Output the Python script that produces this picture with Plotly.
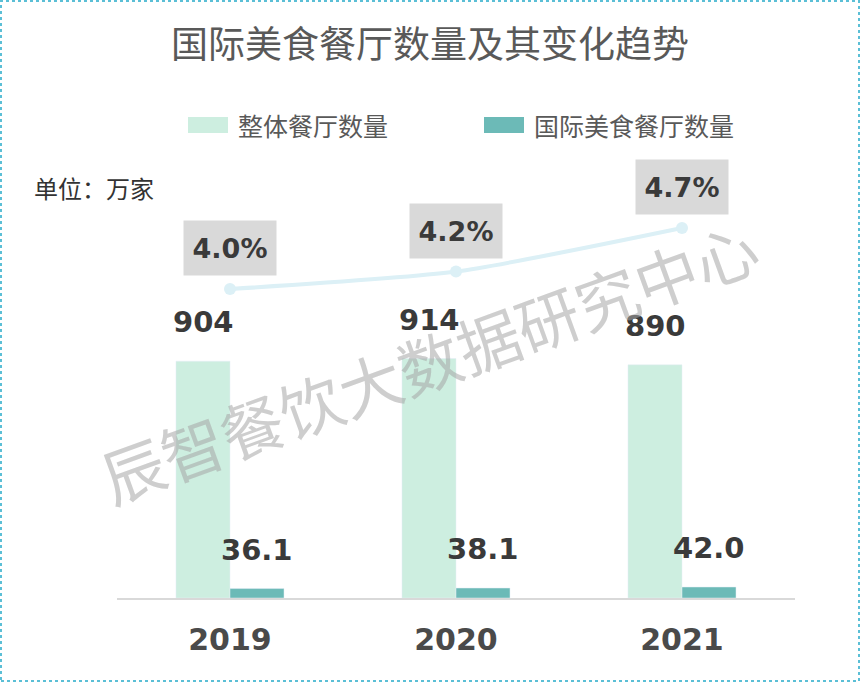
import plotly.graph_objects as go

years = ["2019", "2020", "2021"]
total_restaurants = [904, 914, 890]
intl_restaurants = [36.1, 38.1, 42.0]
intl_share = [4.0, 4.2, 4.7]
total_labels = ["904", "914", "890"]
intl_labels = ["36.1", "38.1", "42.0"]
share_labels = ["4.0%", "4.2%", "4.7%"]

W, H = 861, 683
L, R, T, B = 117, 66, 150, 85
PW, PH = W - L - R, H - T - B

def px(x):
    return (x - L) / PW

def py(y):
    return (H - B - y) / PH

LIGHT = "#cdeee0"
DARK = "#6cbab7"
NUMFONT = "'DejaVu Sans', sans-serif"
CJK = "'Noto Sans CJK SC', sans-serif"

fig = go.Figure()
fig.add_trace(go.Bar(x=years, y=total_restaurants, name="整体餐厅数量",
                     marker_color=LIGHT, yaxis="y"))
fig.add_trace(go.Bar(x=years, y=intl_restaurants, name="国际美食餐厅数量",
                     marker_color=DARK, yaxis="y"))
fig.add_trace(go.Scatter(x=years, y=intl_share, mode="lines+markers", yaxis="y2",
                         line=dict(color="#dcf0f6", width=4, shape="spline", smoothing=0.6),
                         marker=dict(color="#dcf0f6", size=12), showlegend=False))

ann = []
for i, yr in enumerate(years):
    ann.append(dict(x=i, y=total_restaurants[i], xref="x", yref="y", text=total_labels[i],
                    showarrow=False, xshift=-27, yshift=39, yanchor="middle", xanchor="center",
                    font=dict(family=NUMFONT, size=29, color="#3a3a3a", weight="bold")))
    ann.append(dict(x=i, y=intl_restaurants[i], xref="x", yref="y", text=intl_labels[i],
                    showarrow=False, xshift=27, yshift=39, yanchor="middle", xanchor="center",
                    font=dict(family=NUMFONT, size=29, color="#3a3a3a", weight="bold")))
    ann.append(dict(x=i, y=intl_share[i], xref="x", yref="y2", text=share_labels[i],
                    showarrow=False, yshift=41, bgcolor="#d9d9d9", width=90, height=52,
                    yanchor="middle", xanchor="center",
                    font=dict(family=NUMFONT, size=27, color="#3a3a3a", weight="bold")))

# title
ann.append(dict(x=px(430), y=py(42), xref="paper", yref="paper", text="国际美食餐厅数量及其变化趋势",
                showarrow=False, xanchor="center", yanchor="middle",
                font=dict(family=CJK, size=37, color="#595959")))
# unit
ann.append(dict(x=px(32), y=py(187), xref="paper", yref="paper", text="单位：万家",
                showarrow=False, xanchor="left", yanchor="middle",
                font=dict(family=CJK, size=24, color="#333333")))
# legend texts
ann.append(dict(x=px(236), y=py(125), xref="paper", yref="paper", text="整体餐厅数量",
                showarrow=False, xanchor="left", yanchor="middle",
                font=dict(family=CJK, size=25, color="#595959")))
ann.append(dict(x=px(532), y=py(125), xref="paper", yref="paper", text="国际美食餐厅数量",
                showarrow=False, xanchor="left", yanchor="middle",
                font=dict(family=CJK, size=25, color="#595959")))
# watermark
ann.append(dict(x=px(428), y=py(360), xref="paper", yref="paper", text="辰智餐饮大数据研究中心",
                showarrow=False, textangle=-20, xanchor="center", yanchor="middle",
                font=dict(family=CJK, size=63, color="rgba(165,165,165,0.55)")))

shapes = [
    dict(type="rect", xref="paper", yref="paper", x0=px(188), x1=px(228), y0=py(133), y1=py(117),
         fillcolor=LIGHT, line=dict(width=0)),
    dict(type="rect", xref="paper", yref="paper", x0=px(484), x1=px(524), y0=py(133), y1=py(117),
         fillcolor=DARK, line=dict(width=0)),
    dict(type="rect", xref="paper", yref="paper", x0=px(1), x1=px(859), y0=py(681), y1=py(1),
         line=dict(color="#5bbfd6", width=2, dash="dot"), fillcolor="rgba(0,0,0,0)", layer="above"),
]

fig.update_layout(
    width=W, height=H, margin=dict(l=L, r=R, t=T, b=B),
    paper_bgcolor="white", plot_bgcolor="white",
    barmode="group", bargap=0.522, bargroupgap=0,
    showlegend=False,
    xaxis=dict(type="category", range=[-0.5, 2.5], showline=True, linecolor="#d9d9d9",
               linewidth=2, ticks="", showgrid=False,
               tickfont=dict(family=NUMFONT, size=30, color="#4a4a4a", weight="bold"),
               ticklabelstandoff=14),
    yaxis=dict(range=[0, 1710], visible=False, showgrid=False),
    yaxis2=dict(range=[0.453, 5.596], overlaying="y", visible=False, showgrid=False),
    annotations=ann, shapes=shapes,
)

fig.write_html("out.html")
